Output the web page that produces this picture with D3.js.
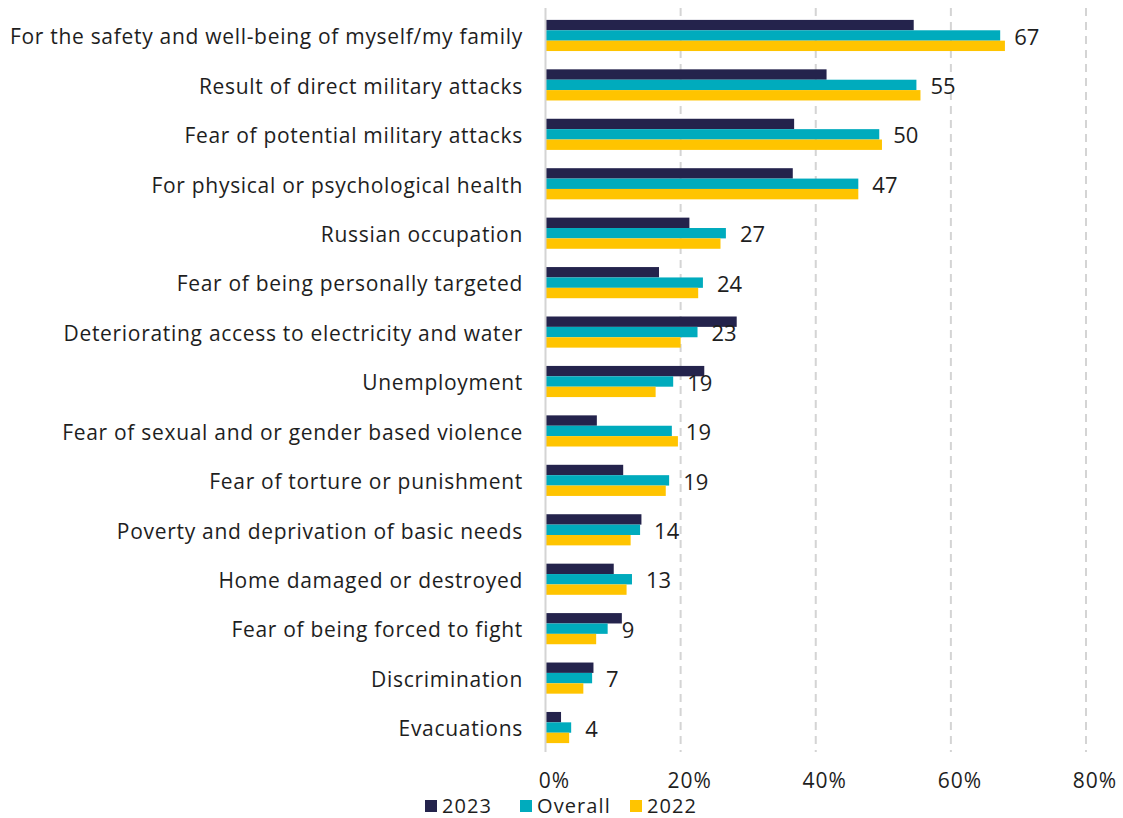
<!DOCTYPE html>
<html><head><meta charset="utf-8">
<script src="https://cdn.jsdelivr.net/npm/d3@7"></script>
<style>
body{margin:0;background:#fff;}
svg{display:block;font-family:"Open Sans",sans-serif;}
</style></head>
<body><svg id="c" width="1123" height="818"></svg>
<script>
const categories = [
  "For the safety and well-being of myself/my family",
  "Result of direct military attacks",
  "Fear of potential military attacks",
  "For physical or psychological health",
  "Russian occupation",
  "Fear of being personally targeted",
  "Deteriorating access to electricity and water",
  "Unemployment",
  "Fear of sexual and or gender based violence",
  "Fear of torture or punishment",
  "Poverty and deprivation of basic needs",
  "Home damaged or destroyed",
  "Fear of being forced to fight",
  "Discrimination",
  "Evacuations"
];
const series = ["2023", "Overall", "2022"];
const values2023    = [54.5, 41.6, 36.8, 36.6, 21.3, 16.8, 28.3, 23.5, 7.6, 11.5, 14.2, 10.1, 11.3, 7.1, 2.3];
const valuesOverall = [67.3, 54.9, 49.4, 46.3, 26.7, 23.3, 22.5, 18.9, 18.7, 18.3, 14.0, 12.8, 9.2, 6.9, 3.8];
const values2022    = [68.0, 55.5, 49.8, 46.3, 25.9, 22.6, 20.0, 16.3, 19.6, 17.8, 12.6, 12.0, 7.5, 5.6, 3.5];
const valueLabels   = [67, 55, 50, 47, 27, 24, 23, 19, 19, 19, 14, 13, 9, 7, 4];
const xTicks = [0, 20, 40, 60, 80];
const colors = ["#24234c", "#00abbd", "#ffc400"];

const svg = d3.select("#c");
const x = d3.scaleLinear().domain([0, 80]).range([545.5, 1086]);
const y = d3.scaleBand().domain(categories).range([11, 752]).paddingInner(0.37).paddingOuter(0.18);
const ySub = d3.scaleBand().domain(series).range([0, y.bandwidth()]);
const color = d3.scaleOrdinal().domain(series).range(colors);
const data = [values2023, valuesOverall, values2022];

// grid
svg.append("g").selectAll("line").data(xTicks.slice(1)).join("line")
  .attr("x1", d => x(d)).attr("x2", d => x(d))
  .attr("y1", 8).attr("y2", 752)
  .attr("stroke", "#d4d4d4").attr("stroke-width", 2).attr("stroke-dasharray", "8,6");

// bars
const groups = svg.append("g").selectAll("g").data(categories).join("g")
  .attr("transform", d => `translate(0,${y(d)})`);
groups.selectAll("rect").data((c, i) => series.map((s, k) => ({s, v: data[k][i]}))).join("rect")
  .attr("x", x(0)).attr("y", d => ySub(d.s))
  .attr("width", d => x(d.v) - x(0)).attr("height", ySub.bandwidth())
  .attr("fill", d => color(d.s));

// y axis line
svg.append("line").attr("x1", x(0)).attr("x2", x(0)).attr("y1", 8).attr("y2", 752)
  .attr("stroke", "#d4d4d4").attr("stroke-width", 2);

// category labels
svg.append("g").selectAll("text").data(categories).join("text")
  .attr("x", 523).attr("y", d => y(d) + y.bandwidth() / 2 + 1)
  .attr("dy", "0.37em").attr("text-anchor", "end")
  .attr("font-size", 21).attr("letter-spacing", 0.7).attr("fill", "#1e1e1e").text(d => d);

// value labels
svg.append("g").selectAll("text").data(categories).join("text")
  .attr("x", (d, i) => x(valuesOverall[i]) + 14).attr("y", d => y(d) + y.bandwidth() / 2 + 1)
  .attr("dy", "0.37em").attr("font-size", 22).attr("fill", "#1e1e1e")
  .text((d, i) => valueLabels[i]);

// x tick labels
svg.append("g").selectAll("text").data(xTicks).join("text")
  .attr("x", d => x(d) + 9).attr("y", 780).attr("dy", "0.36em")
  .attr("text-anchor", "middle").attr("font-size", 21).attr("letter-spacing", 1).attr("fill", "#1e1e1e")
  .text(d => d + "%");

// legend
const legX = [425, 520, 630];
const leg = svg.append("g").selectAll("g").data(series).join("g")
  .attr("transform", (d, i) => `translate(${legX[i]},805)`);
leg.append("rect").attr("x", 0).attr("y", -5).attr("width", 12).attr("height", 12).attr("fill", d => color(d));
leg.append("text").attr("x", 17).attr("dy", "0.38em").attr("font-size", 20).attr("letter-spacing", 1.1).attr("fill", "#1e1e1e").text(d => d);
</script></body></html>
